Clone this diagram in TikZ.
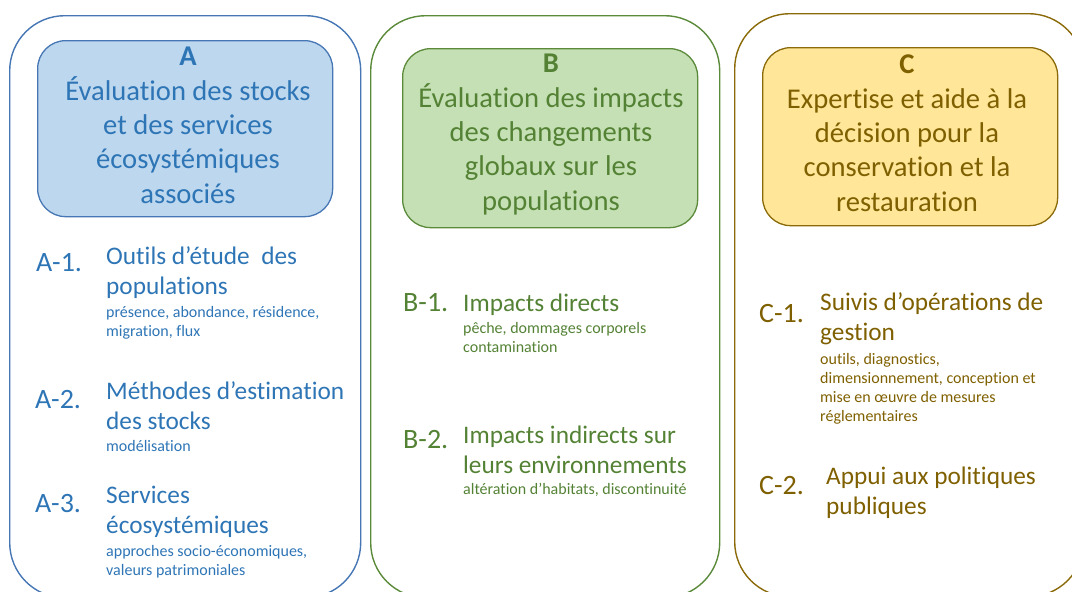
\documentclass[tikz,border=0pt]{standalone}
\usepackage{fontspec}
\setmainfont{Carlito}[Ligatures={NoCommon}]
\definecolor{txtA}{HTML}{2E75B6}
\definecolor{lineA}{HTML}{4677B4}
\definecolor{fillA}{HTML}{BDD7EE}
\definecolor{txtB}{HTML}{548235}
\definecolor{lineB}{HTML}{5A8A3A}
\definecolor{fillB}{HTML}{C5E0B4}
\definecolor{txtC}{HTML}{7F6000}
\definecolor{lineC}{HTML}{8B6A0A}
\definecolor{fillC}{HTML}{FFE699}
\tikzset{
  outerbox/.style={draw, line width=1.4pt, rounded corners=55pt, anchor=north west, inner sep=0pt},
  innerbox/.style={draw, line width=1.3pt, rounded corners=28pt, anchor=north west, inner sep=0pt},
  titletext/.style={align=center, anchor=base, inner sep=0pt, font=\fontsize{28.6}{34.3}\selectfont},
  itemlabel/.style={anchor=base west, inner sep=0pt, font=\fontsize{28}{34}\selectfont},
  itemmain/.style={align=left, anchor=base west, inner sep=0pt, font=\fontsize{25.3}{30.5}\selectfont},
  itemsmall/.style={align=left, anchor=base west, inner sep=0pt, font=\fontsize{16}{19}\selectfont},
}
\begin{document}
\begin{tikzpicture}[x=1pt, y=-1pt]
\useasboundingbox (0,0) rectangle (1072,592);
\clip (0,0) rectangle (1072,592);
% outer frames
\node[outerbox, draw=lineA, minimum width=351pt, minimum height=582pt] (oA) at (9,15) {};
\node[outerbox, draw=lineB, minimum width=349pt, minimum height=582pt] (oB) at (370,15) {};
\node[outerbox, draw=lineC, minimum width=349pt, minimum height=583pt] (oC) at (734,13) {};
% inner title boxes
\node[innerbox, draw=lineA, fill=fillA, minimum width=295pt, minimum height=176pt] (iA) at (37,40) {};
\node[innerbox, draw=lineB, fill=fillB, minimum width=295pt, minimum height=179pt] (iB) at (402,48) {};
\node[innerbox, draw=lineC, fill=fillC, minimum width=295pt, minimum height=178pt] (iC) at (762,47) {};
% titles (anchored at the baseline of the last line)
\node[titletext, text=txtA] (tA) at (188,203) {\textbf{A}\\Évaluation des stocks\\et des services\\écosystémiques\\associés};
\node[titletext, text=txtB] (tB) at (551,210) {\textbf{B}\\Évaluation des impacts\\des changements\\globaux sur les\\populations};
\node[titletext, text=txtC] (tC) at (907,211) {\textbf{C}\\Expertise et aide à la\\décision pour la\\conservation et la\\restauration};
% column A
\node[itemlabel, text=txtA] (lA1) at (36,271) {A-1.};
\node[itemmain, text=txtA] (mA1) at (106,294.5) {Outils d’étude\ \ des\\populations};
\node[itemsmall, text=txtA] (sA1) at (106,336) {présence, abondance, résidence,\\migration, flux};
\node[itemlabel, text=txtA] (lA2) at (35,408) {A-2.};
\node[itemmain, text=txtA] (mA2) at (106,429.5) {Méthodes d’estimation\\des stocks};
\node[itemsmall, text=txtA] (sA2) at (106,451) {modélisation};
\node[itemlabel, text=txtA] (lA3) at (35,512) {A-3.};
\node[itemmain, text=txtA] (mA3) at (106,533.5) {Services\\écosystémiques};
\node[itemsmall, text=txtA] (sA3) at (106,575) {approches socio-économiques,\\valeurs patrimoniales};
% column B
\node[itemlabel, text=txtB] (lB1) at (403,311) {B-1.};
\node[itemmain, text=txtB] (mB1) at (463,311) {Impacts directs};
\node[itemsmall, text=txtB] (sB1) at (463,352) {pêche, dommages corporels\\contamination};
\node[itemlabel, text=txtB] (lB2) at (403,448) {B-2.};
\node[itemmain, text=txtB] (mB2) at (463,473.5) {Impacts indirects sur\\leurs environnements};
\node[itemsmall, text=txtB] (sB2) at (463,494) {altération d’habitats, discontinuité};
% column C
\node[itemlabel, text=txtC] (lC1) at (759,322) {C-1.};
\node[itemmain, text=txtC] (mC1) at (820,340.5) {Suivis d’opérations de\\gestion};
\node[itemsmall, text=txtC] (sC1) at (820,421) {outils, diagnostics,\\dimensionnement, conception et\\mise en œuvre de mesures\\réglementaires};
\node[itemlabel, text=txtC] (lC2) at (759,494) {C-2.};
\node[itemmain, text=txtC] (mC2) at (826,514.5) {Appui aux politiques\\publiques};
\end{tikzpicture}
\end{document}
